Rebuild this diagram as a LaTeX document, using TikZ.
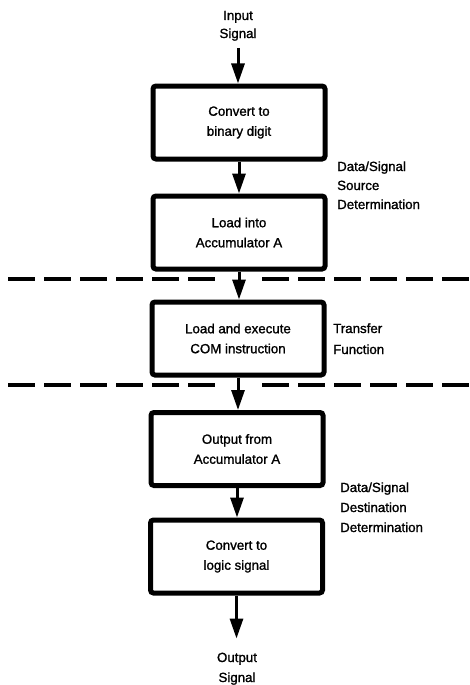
\documentclass[tikz,border=0pt]{standalone}
\usepackage{fontspec}
\setmainfont{Liberation Sans}[FakeBold=1.3]
\usetikzlibrary{arrows.meta}
\begin{document}
\begin{tikzpicture}[x=1pt,y=-1pt,
  every node/.style={font=\fontsize{13.3}{20}\selectfont, inner sep=0pt},
  box/.style={draw, line width=5pt, rounded corners=3pt, minimum width=172pt, minimum height=73pt, align=center},
  lbl/.style={align=left, anchor=base west},
  arr/.style={line width=3pt, -{Triangle[length=20pt,width=13pt]}},
  sep/.style={line width=4pt, dash pattern=on 27pt off 9pt}]
\useasboundingbox (0,0) rectangle (469,685);
% boxes
\node[box] (b1) at (239,122.5) {Convert to\\binary digit};
\node[box] (b2) at (239,232.5) {Load into\\Accumulator A};
\node[box] (b3) at (238,338.5) {Load and execute\\COM instruction};
\node[box] (b4) at (237,449) {Output from\\Accumulator A};
\node[box] (b5) at (236.5,556.5) {Convert to\\logic signal};
% input / output texts
\node[align=center, anchor=base] (in) at (238,38) {Input\\[-2pt]Signal};
\node[align=center, anchor=base] (out) at (237,682) {Output\\Signal};
% side labels
\node[lbl] (l1) at (337,209) {Data/Signal\\[-1pt]Source\\[-1pt]Determination};
\node[lbl] (l2) at (333,354) {Transfer\\[1pt]Function};
\node[lbl] (l3) at (340,532) {Data/Signal\\Destination\\Determination};
% connectors
\draw[arr, shorten <=7pt] (in.south) -- (in.south |- b1.north);
\draw[arr] (b1.south) -- (b1.south |- b2.north);
\draw[arr] (b2.south) -- (b2.south |- b3.north);
\draw[arr] (b3.south) -- (b3.south |- b4.north);
\draw[arr] (b4.south) -- (b4.south |- b5.north);
\draw[arr, shorten >=14pt] (b5.south) -- (b5.south |- out.north);
% dashed separators
\coordinate (d1a) at (8,279);
\coordinate (d1b) at (215,279);
\coordinate (d1c) at (262,279);
\coordinate (d1d) at (469,279);
\coordinate (d2a) at (8,385);
\coordinate (d2b) at (215,385);
\coordinate (d2c) at (262,385);
\coordinate (d2d) at (469,385);
\draw[sep] (d1a) -- (d1b);
\draw[sep] (d1c) -- (d1d);
\draw[sep] (d2a) -- (d2b);
\draw[sep] (d2c) -- (d2d);
\end{tikzpicture}
\end{document}
